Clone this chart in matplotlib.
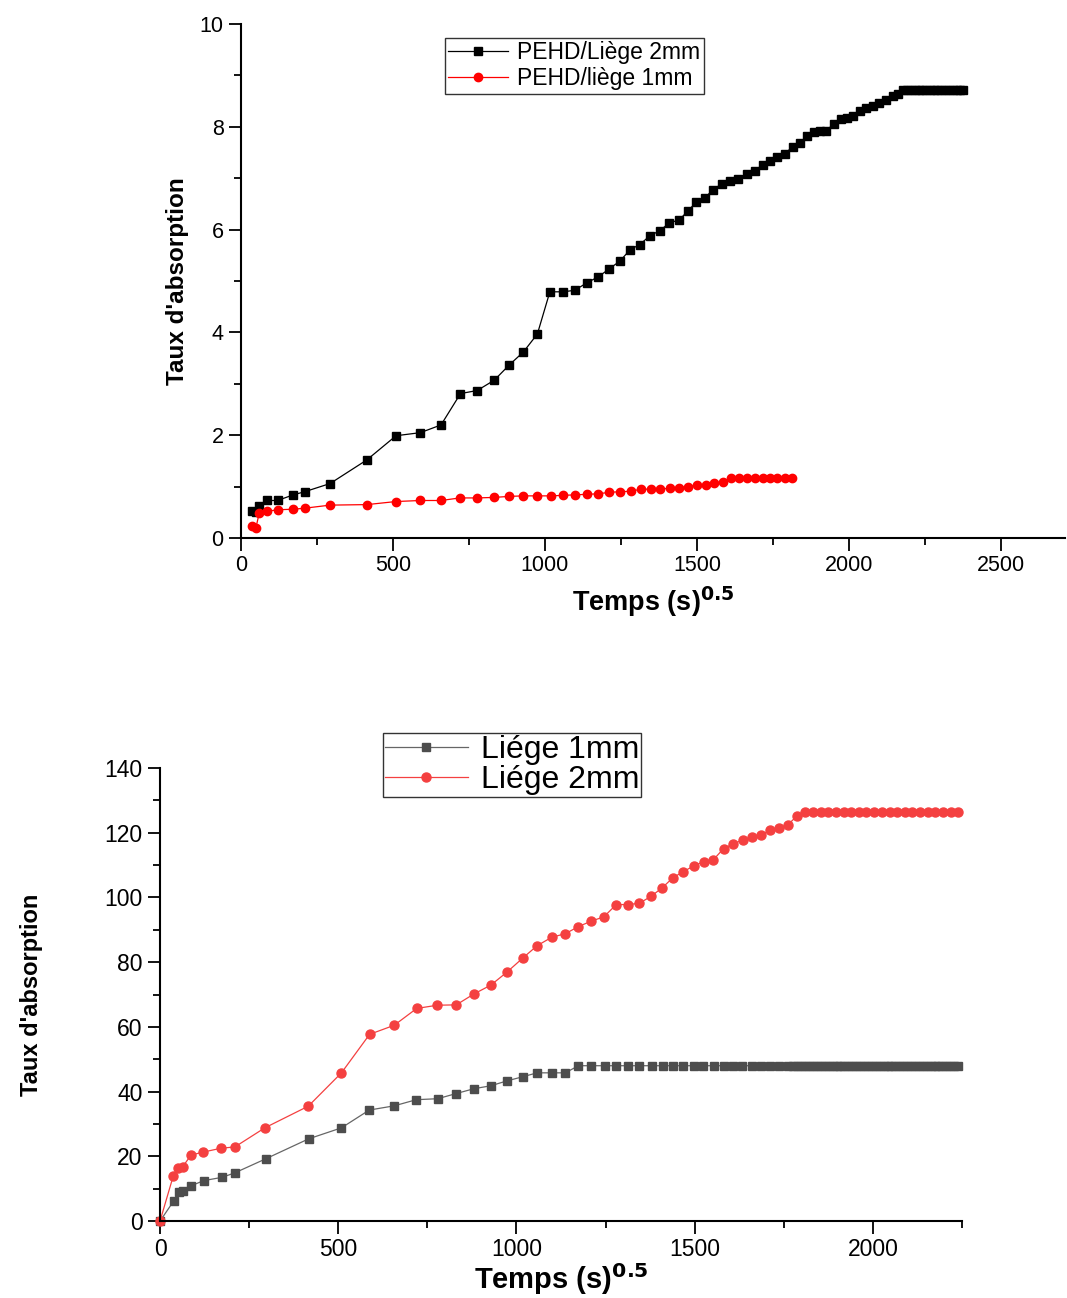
import matplotlib
matplotlib.use("Agg")
import matplotlib.pyplot as plt
from matplotlib.ticker import MultipleLocator

# PEHD/Liège composites - absorption vs sqrt(time)
t_2mm = [35, 49, 60, 87, 120, 172, 209, 293, 414, 510, 590, 658, 722, 777, 833,
         883, 929, 975, 1016, 1060, 1098, 1139, 1175, 1212, 1247, 1280, 1312, 1345,
         1378, 1409, 1442, 1471, 1497, 1526, 1552, 1582, 1609, 1636, 1663, 1691,
         1716, 1740, 1764, 1789, 1815, 1839, 1861, 1885, 1905, 1924, 1951, 1973,
         1992, 2014, 2036, 2056, 2078, 2100, 2122, 2144, 2162, 2179, 2191, 2204,
         2216, 2229, 2241, 2254, 2266, 2279, 2291, 2304, 2316, 2329, 2341, 2354,
         2366, 2376]
v_2mm = [0.53, 0.50, 0.62, 0.73, 0.73, 0.84, 0.90, 1.06, 1.52, 1.99, 2.05, 2.20,
         2.81, 2.87, 3.07, 3.37, 3.62, 3.97, 4.79, 4.79, 4.82, 4.97, 5.08, 5.24,
         5.39, 5.61, 5.71, 5.88, 5.98, 6.13, 6.19, 6.37, 6.53, 6.61, 6.78, 6.89,
         6.95, 6.99, 7.09, 7.15, 7.26, 7.33, 7.41, 7.48, 7.61, 7.68, 7.83, 7.90,
         7.92, 7.92, 8.06, 8.16, 8.18, 8.22, 8.31, 8.37, 8.41, 8.47, 8.52, 8.59,
         8.64, 8.72, 8.72, 8.72, 8.72, 8.72, 8.72, 8.72, 8.72, 8.72, 8.72, 8.72,
         8.72, 8.72, 8.72, 8.72, 8.72, 8.72]

t_1mm = [35, 49, 60, 87, 120, 172, 209, 293, 414, 510, 590, 658, 720, 777, 832,
         883, 929, 975, 1019, 1060, 1100, 1137, 1175, 1212, 1247, 1282, 1315, 1348,
         1378, 1410, 1441, 1470, 1499, 1529, 1557, 1584, 1611, 1637, 1663, 1690,
         1716, 1740, 1764, 1788, 1812]
v_1mm = [0.23, 0.20, 0.49, 0.52, 0.55, 0.56, 0.58, 0.64, 0.65, 0.71, 0.73, 0.73,
         0.78, 0.78, 0.79, 0.81, 0.82, 0.82, 0.82, 0.83, 0.84, 0.85, 0.86, 0.89,
         0.90, 0.91, 0.95, 0.95, 0.95, 0.97, 0.98, 1.00, 1.03, 1.04, 1.07, 1.09,
         1.17, 1.17, 1.17, 1.17, 1.17, 1.17, 1.17, 1.17, 1.17]

# Liège alone
tl_1mm = [0, 39, 53, 65, 87, 123, 174, 210, 296, 417, 509, 587, 657, 719, 779,
          831, 881, 928, 973, 1018, 1058, 1099, 1137, 1174, 1210, 1247, 1280, 1313,
          1344, 1379, 1410, 1438, 1468, 1497, 1524, 1555, 1582, 1608, 1634, 1662,
          1686, 1712, 1736, 1761, 1775, 1786, 1798, 1809, 1821, 1832, 1843, 1854,
          1865, 1876, 1887, 1898, 1909, 1920, 1931, 1942, 1953, 1964, 1975, 1986,
          1997, 2008, 2019, 2030, 2041, 2052, 2063, 2074, 2085, 2096, 2107, 2118,
          2129, 2140, 2151, 2162, 2173, 2184, 2195, 2206, 2217, 2228, 2239]
vl_1mm = [0, 6.3, 9.1, 9.4, 10.9, 12.5, 13.5, 14.9, 19.2, 25.4, 28.8, 34.3, 35.6,
          37.5, 37.8, 39.4, 40.9, 41.8, 43.3, 44.6, 45.8, 45.8, 45.8] + [48.0] * 64

tl_2mm = [0, 37, 51, 63, 87, 121, 171, 210, 294, 416, 509, 588, 657, 720, 778,
          831, 881, 928, 973, 1018, 1058, 1099, 1137, 1174, 1210, 1245, 1280, 1312,
          1345, 1378, 1408, 1438, 1468, 1497, 1525, 1552, 1581, 1607, 1635, 1661,
          1686, 1711, 1736, 1761, 1786, 1809, 1832, 1853, 1875, 1896, 1918, 1939,
          1961, 1982, 2004, 2025, 2047, 2068, 2090, 2111, 2132, 2154, 2175, 2196,
          2218, 2239]
vl_2mm = [0, 13.9, 16.3, 16.7, 20.4, 21.3, 22.5, 22.9, 28.8, 35.5, 45.8, 57.7,
          60.5, 65.7, 66.7, 66.8, 70.2, 72.9, 76.9, 81.3, 85.1, 87.7, 88.8, 91.0,
          92.7, 94.0, 97.8, 97.8, 98.2, 100.4, 102.9, 106.0, 108.0, 109.7, 111.1,
          111.6, 115.1, 116.5, 117.8, 118.6, 119.4, 120.7, 121.4, 122.4, 125.1] + [126.5] * 21

plt.rcParams['font.family'] = ['Liberation Sans', 'DejaVu Sans']

fig = plt.figure(figsize=(10.67, 12.98), dpi=100)
ax1 = fig.add_axes([0.2259, 0.5855, 0.772, 0.396])
ax2 = fig.add_axes([0.15, 0.0593, 0.7516, 0.349])

ax1.plot(t_2mm, v_2mm, color='black', lw=0.9, marker='s', ms=5.5, label='PEHD/Liège 2mm')
ax1.plot(t_1mm, v_1mm, color='#ff0000', lw=0.9, marker='o', ms=6, label='PEHD/liège 1mm')
ax1.set_xlim(0, 2710)
ax1.set_ylim(0, 10)
ax1.xaxis.set_major_locator(MultipleLocator(500))
ax1.xaxis.set_minor_locator(MultipleLocator(250))
ax1.yaxis.set_major_locator(MultipleLocator(2))
ax1.yaxis.set_minor_locator(MultipleLocator(1))
ax1.legend(loc='upper left', bbox_to_anchor=(0.2476, 0.973), fancybox=False,
           edgecolor='black', fontsize=16.5, handlelength=2.6, borderpad=0.15,
           labelspacing=0.12, handletextpad=0.4, borderaxespad=0)
ax1.set_xlabel('Temps (s)$^{\\mathbf{0.5}}$', fontsize=19.5, fontweight='bold', labelpad=6)
ax1.set_ylabel("Taux d'absorption", fontsize=17.5, fontweight='bold', labelpad=8)
ax1.tick_params(which='major', labelsize=15.5)

ax2.plot(tl_1mm, vl_1mm, color='#666666', lw=0.9, marker='s', ms=6,
         mfc='#4d4d4d', mec='#4d4d4d', label='Liége 1mm')
ax2.plot(tl_2mm, vl_2mm, color='#f44040', lw=0.9, marker='o', ms=6.5,
         mfc='#f44040', mec='#f44040', label='Liége 2mm')
ax2.set_xlim(0, 2250)
ax2.set_ylim(0, 140)
ax2.xaxis.set_major_locator(MultipleLocator(500))
ax2.xaxis.set_minor_locator(MultipleLocator(250))
ax2.yaxis.set_major_locator(MultipleLocator(20))
ax2.yaxis.set_minor_locator(MultipleLocator(10))
ax2.legend(loc='upper left', bbox_to_anchor=(0.278, 1.077), fancybox=False,
           edgecolor='black', fontsize=23, handlelength=2.6, borderpad=0.06,
           labelspacing=0.0, handletextpad=0.4, borderaxespad=0)
ax2.set_xlabel('Temps (s)$^{\\mathbf{0.5}}$', fontsize=21, fontweight='bold', labelpad=0)
ax2.set_ylabel("Taux d'absorption", fontsize=17, fontweight='bold', labelpad=44)
ax2.tick_params(which='major', labelsize=16.5)

for ax in (ax1, ax2):
    ax.spines['top'].set_visible(False)
    ax.spines['right'].set_visible(False)
    ax.spines['left'].set_linewidth(1.5)
    ax.spines['bottom'].set_linewidth(1.5)
    ax.tick_params(which='major', direction='out', length=9, width=1.3)
    ax.tick_params(which='minor', direction='out', length=5, width=1.3)
    for line in ax.get_lines():
        line.set_clip_on(False)

fig.savefig('out.png', dpi=100)
